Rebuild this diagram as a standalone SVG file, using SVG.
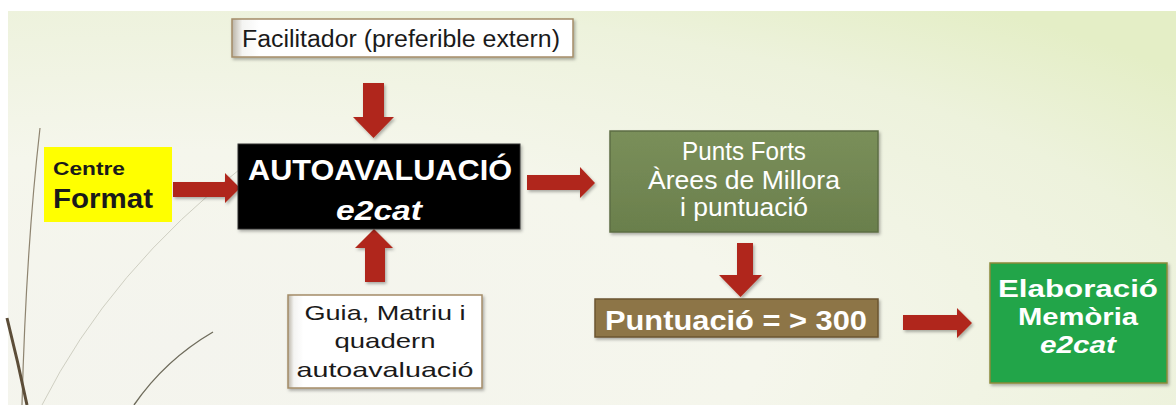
<svg xmlns="http://www.w3.org/2000/svg" width="1176" height="405" viewBox="0 0 1176 405">
<defs>
<radialGradient id="bg" cx="0.15" cy="0.85" r="1.1" fx="0.15" fy="0.85">
<stop offset="0" stop-color="#f4f4ee"/>
<stop offset="0.45" stop-color="#f5f6ec"/>
<stop offset="0.8" stop-color="#edf2dc"/>
<stop offset="1" stop-color="#e4eec6"/>
</radialGradient>
<linearGradient id="whiteBox" x1="0" y1="0" x2="1" y2="0">
<stop offset="0" stop-color="#b9b3a6"/>
<stop offset="0.03" stop-color="#f4f4f2"/>
<stop offset="0.08" stop-color="#ffffff"/>
<stop offset="1" stop-color="#ffffff"/>
</linearGradient>
<linearGradient id="olive" x1="0" y1="0" x2="0" y2="1">
<stop offset="0" stop-color="#7a8f5a"/>
<stop offset="1" stop-color="#6a7f4c"/>
</linearGradient>
<filter id="sh" x="-10%" y="-10%" width="125%" height="130%">
<feDropShadow dx="1.5" dy="2" stdDeviation="1.5" flood-color="#000" flood-opacity="0.3"/>
</filter>
</defs>
<style>
.arrow{fill:#b0281b;filter:url(#sh)}
.t{font-family:"Liberation Sans",Arial,sans-serif}
.wbox{fill:url(#whiteBox);stroke:#a48c68;stroke-width:1.5}
.dark{fill:#1a1a1a}
.white{fill:#ffffff}
.b{font-weight:bold}
.bi{font-weight:bold;font-style:italic}
.stem{fill:none}
</style>
<rect x="0" y="0" width="1176" height="405" fill="#ffffff"/>
<rect x="8" y="11" width="1168" height="394" fill="url(#bg)"/>
<g id="decoration">
<path class="stem" d="M40 128 Q26 250 22 405" stroke="#8e8470" stroke-width="1.2"/>
<path class="stem" d="M7 318 Q18 362 27 405" stroke="#5c4d38" stroke-width="3"/>
<path class="stem" d="M245 165 Q110 270 42 405" stroke="#cfcfc2" stroke-width="1"/>
<path class="stem" d="M213 332 Q165 360 134 405" stroke="#6f6c5c" stroke-width="1.4"/>
</g>
<g id="connectors">
<path class="arrow" d="M363 83 H384 V117 H394 L373.5 138 L353 117 H363 Z"/>
<path class="arrow" d="M173 182 H225 V173 L240 188 L225 203 V197 H173 Z"/>
<path class="arrow" d="M365 282 H385 V248 H393 L374 229 L355 248 H365 Z"/>
<path class="arrow" d="M527 175 H580 V167 L595 183 L580 198 V190 H527 Z"/>
<path class="arrow" d="M737 243 H753 V275 H762 L740.5 297 L719 275 H737 Z"/>
<path class="arrow" d="M903 315 H957 V308 L972 323 L957 338 V330 H903 Z"/>
</g>
<g id="node-facilitador">
<rect class="wbox" x="232" y="19" width="341" height="38" filter="url(#sh)"/>
<text class="t dark" x="242" y="47" font-size="23" textLength="318" lengthAdjust="spacingAndGlyphs">Facilitador (preferible extern)</text>
</g>
<g id="node-centre">
<rect x="44" y="147" width="128" height="75" fill="#ffff00"/>
<text class="t b dark" x="53" y="175" font-size="18" textLength="72" lengthAdjust="spacingAndGlyphs">Centre</text>
<text class="t b dark" x="53" y="208" font-size="27" textLength="100" lengthAdjust="spacingAndGlyphs">Format</text>
</g>
<g id="node-autoavaluacio">
<rect x="238" y="144" width="282" height="85" fill="#000000" stroke="#333" stroke-width="1" filter="url(#sh)"/>
<text class="t b white" x="380" y="180" font-size="30" text-anchor="middle" textLength="264" lengthAdjust="spacingAndGlyphs">AUTOAVALUACIÓ</text>
<text class="t bi white" x="379" y="220" font-size="28" text-anchor="middle" textLength="86" lengthAdjust="spacingAndGlyphs">e2cat</text>
</g>
<g id="node-guia">
<rect class="wbox" x="288" y="295" width="194" height="93" filter="url(#sh)"/>
<text class="t dark" x="385" y="320" font-size="21" text-anchor="middle" textLength="161" lengthAdjust="spacingAndGlyphs">Guia, Matriu i</text>
<text class="t dark" x="385" y="348" font-size="21" text-anchor="middle" textLength="101" lengthAdjust="spacingAndGlyphs">quadern</text>
<text class="t dark" x="385" y="377" font-size="21" text-anchor="middle" textLength="177" lengthAdjust="spacingAndGlyphs">autoavaluació</text>
</g>
<g id="node-punts">
<rect x="610" y="131" width="268" height="101" fill="url(#olive)" stroke="#5d6e43" stroke-width="1.5" filter="url(#sh)"/>
<text class="t white" x="744" y="160" font-size="25" text-anchor="middle" textLength="124" lengthAdjust="spacingAndGlyphs">Punts Forts</text>
<text class="t white" x="744" y="189" font-size="25" text-anchor="middle" textLength="192" lengthAdjust="spacingAndGlyphs">Àrees de Millora</text>
<text class="t white" x="744" y="216" font-size="25" text-anchor="middle" textLength="128" lengthAdjust="spacingAndGlyphs">i puntuació</text>
</g>
<g id="node-puntuacio">
<rect x="595" y="299" width="283" height="38" fill="#8d7546" stroke="#6b5632" stroke-width="1.5" filter="url(#sh)"/>
<text class="t b white" x="736" y="330" font-size="27" text-anchor="middle" textLength="262" lengthAdjust="spacingAndGlyphs">Puntuació = &gt; 300</text>
</g>
<g id="node-elaboracio">
<rect x="990" y="263" width="177" height="120" fill="#20a548" stroke="#8b8a3a" stroke-width="1.5" filter="url(#sh)"/>
<text class="t b white" x="1078" y="297" font-size="24" text-anchor="middle" textLength="160" lengthAdjust="spacingAndGlyphs">Elaboració</text>
<text class="t b white" x="1078" y="325" font-size="24" text-anchor="middle" textLength="120" lengthAdjust="spacingAndGlyphs">Memòria</text>
<text class="t bi white" x="1078" y="353" font-size="24" text-anchor="middle" textLength="76" lengthAdjust="spacingAndGlyphs">e2cat</text>
</g>
</svg>
